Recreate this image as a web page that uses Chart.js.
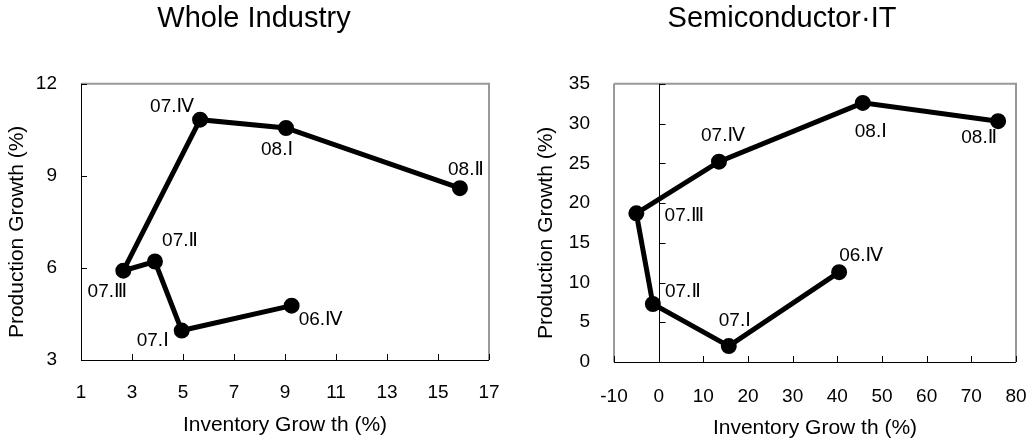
<!DOCTYPE html>
<html>
<head>
<meta charset="utf-8">
<script src="https://cdn.jsdelivr.net/npm/chart.js@4.4.1/dist/chart.umd.min.js"></script>
<style>
  html, body { margin: 0; padding: 0; background: #fff; }
  .box { position: absolute; top: 0; height: 442px; }
</style>
</head>
<body>
<div class="box" style="left:0;width:508px"><canvas id="whole"></canvas></div>
<div class="box" style="left:531px;width:502px"><canvas id="semi"></canvas></div>
<script>
var quarters = ['06.Ⅳ', '07.Ⅰ', '07.Ⅱ', '07.Ⅲ', '07.Ⅳ', '08.Ⅰ', '08.Ⅱ'];

// Whole Industry
var wholeInventory = [9.26, 4.95, 3.90, 2.66, 5.67, 9.04, 15.86];
var wholeProduction = [4.77, 3.96, 6.21, 5.91, 10.83, 10.56, 8.60];
var wholeXTicks = [1, 3, 5, 7, 9, 11, 13, 15, 17];
var wholeYTicks = [3, 6, 9, 12];

// Semiconductor·IT
var semiInventory = [40.4, 15.7, -1.3, -5.0, 13.5, 45.7, 76.0];
var semiProduction = [11.3, 2.0, 7.3, 18.7, 25.2, 32.6, 30.3];
var semiXTicks = [-10, 0, 10, 20, 30, 40, 50, 60, 70, 80];
var semiYTicks = [0, 5, 10, 15, 20, 25, 30, 35];

// where each quarter label sits relative to its point (px)
var wholeLabelOffsets = [[29, 14], [-29, 10], [25, -21], [-16, 21], [-28, -13], [-9, 22], [6, -18]];
var semiLabelOffsets = [[22, -16], [6, -25], [30, -12], [48, 2], [4, -26], [8, 29], [-19, 17]];

var FONT = "'Liberation Sans', 'DejaVu Sans', Arial, sans-serif";

function toPoints(xs, ys) {
    return xs.map(function (x, i) { return { x: x, y: ys[i] }; });
}

// frame, zero line, inward ticks, quarter labels
var decorate = {
    id: 'decorate',
    beforeDatasetsDraw: function (chart, args, opts) {
        var ctx = chart.ctx, a = chart.chartArea;
        var xs = chart.scales.x, ys = chart.scales.y;
        ctx.save();
        ctx.lineWidth = 2;
        ctx.strokeStyle = '#999';
        ctx.beginPath();
        ctx.moveTo(a.left, a.top); ctx.lineTo(a.right, a.top); ctx.lineTo(a.right, a.bottom);
        if (opts.grayLeft) { ctx.moveTo(a.left, a.top); ctx.lineTo(a.left, a.bottom); }
        ctx.stroke();

        ctx.lineWidth = 1;
        ctx.strokeStyle = '#000';
        ctx.beginPath();
        if (!opts.grayLeft) { ctx.moveTo(a.left + 0.5, a.top); ctx.lineTo(a.left + 0.5, a.bottom); }
        ctx.moveTo(a.left, a.bottom + 0.5); ctx.lineTo(a.right, a.bottom + 0.5);
        var yAnchor = a.left;
        if (opts.zeroLine) {
            yAnchor = Math.round(xs.getPixelForValue(0)) + 0.5;
            ctx.moveTo(yAnchor, a.top); ctx.lineTo(yAnchor, a.bottom);
        }
        xs.ticks.forEach(function (t) {
            var px = Math.round(xs.getPixelForValue(t.value)) + 0.5;
            ctx.moveTo(px, a.bottom); ctx.lineTo(px, a.bottom - 6);
        });
        ys.ticks.forEach(function (t) {
            var py = Math.round(ys.getPixelForValue(t.value)) + 0.5;
            ctx.moveTo(yAnchor, py); ctx.lineTo(yAnchor + 6, py);
        });
        ctx.stroke();
        ctx.restore();
    },
    afterDatasetsDraw: function (chart, args, opts) {
        var ctx = chart.ctx;
        var meta = chart.getDatasetMeta(0);
        ctx.save();
        ctx.fillStyle = '#000';
        ctx.font = '19px ' + FONT;
        ctx.textAlign = 'center';
        ctx.textBaseline = 'middle';
        meta.data.forEach(function (pt, i) {
            var off = opts.offsets[i];
            ctx.fillText(quarters[i], pt.x + off[0], pt.y + off[1]);
        });
        ctx.restore();
    }
};

// the y title sits a little below the middle of the axis in the original
function nudgeTitle(scale, dy) {
    if (scale._nudged) return;
    var orig = scale.drawTitle;
    scale.drawTitle = function () {
        this.ctx.save();
        this.ctx.translate(0, dy);
        orig.call(this);
        this.ctx.restore();
    };
    scale._nudged = true;
}

function makeChart(id, title, xs, ys, xTicks, yTicks, offsets, cfg) {
    return new Chart(document.getElementById(id), {
        type: 'scatter',
        data: {
            datasets: [{
                data: toPoints(xs, ys),
                showLine: true,
                borderColor: '#000',
                backgroundColor: '#000',
                borderWidth: 5,
                pointRadius: 5.5,
                pointHoverRadius: 5.5,
                tension: 0
            }]
        },
        options: {
            responsive: true,
            maintainAspectRatio: false,
            devicePixelRatio: 1,
            animation: false,
            layout: { padding: 0 },
            plugins: {
                legend: { display: false },
                tooltip: { enabled: false },
                title: {
                    display: true,
                    text: title,
                    color: '#000',
                    font: { family: FONT, size: 29, weight: 'normal' },
                    padding: { top: 2, bottom: 47 }
                },
                decorate: { offsets: offsets, grayLeft: cfg.grayLeft, zeroLine: cfg.zeroLine }
            },
            scales: {
                x: {
                    type: 'linear',
                    min: xTicks[0],
                    max: xTicks[xTicks.length - 1],
                    afterBuildTicks: function (s) { s.ticks = xTicks.map(function (v) { return { value: v }; }); },
                    afterFit: function (s) {
                        s.height = cfg.xHeight;
                        s.paddingLeft = 0;
                        s.paddingRight = 0;
                    },
                    grid: { display: false },
                    border: { display: false },
                    ticks: { color: '#000', padding: cfg.xTickPad, maxRotation: 0, autoSkip: false, font: { family: FONT, size: 19 } },
                    title: {
                        display: true,
                        text: 'Inventory Grow th (%)',
                        color: '#000',
                        font: { family: FONT, size: 21 },
                        padding: { top: 0, bottom: cfg.xTitlePad }
                    }
                },
                y: {
                    type: 'linear',
                    min: yTicks[0],
                    max: yTicks[yTicks.length - 1],
                    afterBuildTicks: function (s) { s.ticks = yTicks.map(function (v) { return { value: v }; }); },
                    afterFit: function (s) {
                        s.width = cfg.yWidth;
                        nudgeTitle(s, 10);
                    },
                    grid: { display: false },
                    border: { display: false },
                    ticks: { color: '#000', padding: 16, autoSkip: false, font: { family: FONT, size: 19 } },
                    title: {
                        display: true,
                        text: 'Production Growth (%)',
                        color: '#000',
                        font: { family: FONT, size: 21 },
                        padding: { top: cfg.yTitlePad, bottom: 0 }
                    }
                },
                // empty strip on the right so the title stays centred on the canvas
                gap: {
                    type: 'linear',
                    position: 'right',
                    min: 0,
                    max: 1,
                    afterFit: function (s) { s.width = cfg.gapRight; },
                    grid: { display: false },
                    border: { display: false },
                    ticks: { display: false }
                }
            }
        },
        plugins: [decorate]
    });
}

makeChart('whole', 'Whole Industry', wholeInventory, wholeProduction, wholeXTicks, wholeYTicks, wholeLabelOffsets,
    { gapRight: 19, xHeight: 82, yWidth: 81, xTickPad: 13, xTitlePad: 4, yTitlePad: 5, grayLeft: false, zeroLine: false });

makeChart('semi', 'Semiconductor·IT', semiInventory, semiProduction, semiXTicks, semiYTicks, semiLabelOffsets,
    { gapRight: 17, xHeight: 80, yWidth: 83, xTickPad: 15, xTitlePad: 1, yTitlePad: 3, grayLeft: true, zeroLine: true });
</script>
</body>
</html>
